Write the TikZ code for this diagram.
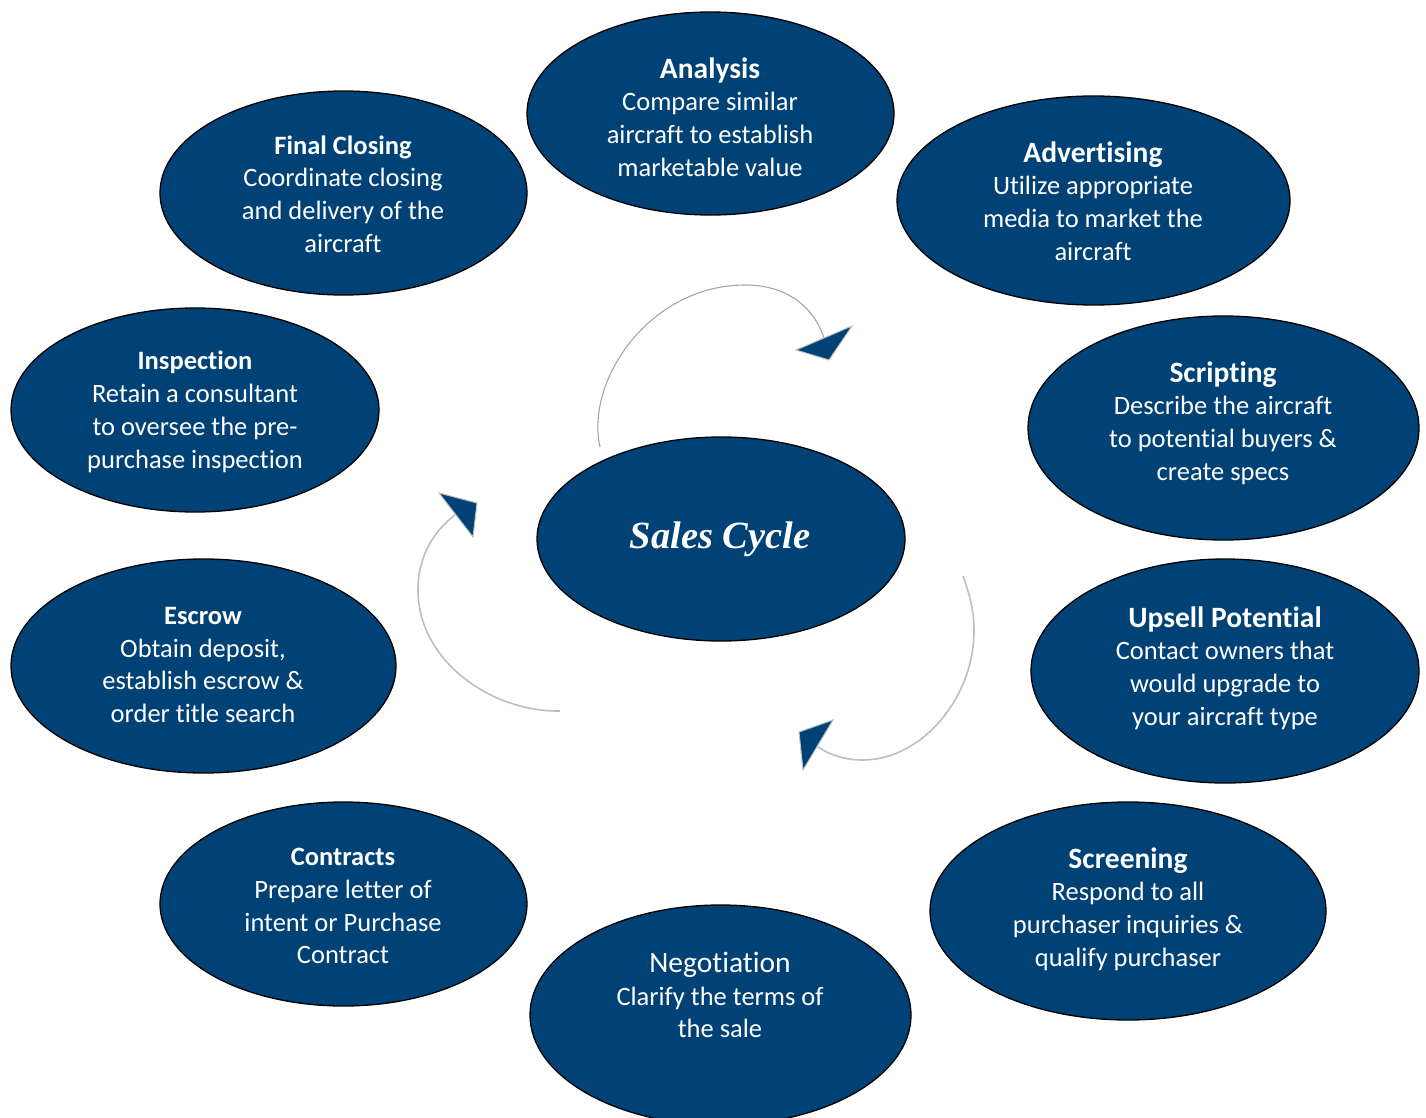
\documentclass[tikz,border=0pt]{standalone}
\usepackage{fontspec}
\setmainfont[Ligatures=NoCommon]{Carlito}
\newfontfamily\titlefont{Liberation Serif}
\definecolor{navy}{RGB}{0,66,118}
\definecolor{arrowgray}{RGB}{190,190,190}
\definecolor{darkgray2}{RGB}{165,165,165}
\newcommand{\bighead}[1]{{\fontsize{29.5}{32.8}\selectfont #1}}
\begin{document}
\begin{tikzpicture}[x=1pt,y=-1pt,
  ebox/.style={draw=black, line width=1.3pt, fill=navy},
  txt/.style={text=white, align=center, font=\fontsize{26.5}{32.8}\selectfont},
  cyc/.style={draw=arrowgray, line width=1.6pt},
  head/.style={fill=navy, draw=arrowgray, line width=1pt, line join=miter}
]
\useasboundingbox (0,0) rectangle (1426,1118);
\clip (0,0) rectangle (1426,1118);
% ellipses
\draw[ebox] (710.5,113.5) ellipse [x radius=183.5, y radius=101.5];
\draw[ebox] (1093.5,200.5) ellipse [x radius=196.5, y radius=104.5];
\draw[ebox] (343.5,193) ellipse [x radius=183.5, y radius=102];
\draw[ebox] (195,410) ellipse [x radius=184, y radius=102];
\draw[ebox] (1223.5,428) ellipse [x radius=195.5, y radius=112];
\draw[ebox] (721,539) ellipse [x radius=184, y radius=102];
\draw[ebox] (1225,671) ellipse [x radius=194, y radius=112];
\draw[ebox] (203.5,666) ellipse [x radius=192.5, y radius=107];
\draw[ebox] (343.5,904) ellipse [x radius=183.5, y radius=102];
\draw[ebox] (1128,911) ellipse [x radius=198, y radius=109];
\draw[ebox] (720.5,1015) ellipse [x radius=190.5, y radius=110];
% texts
\node[txt] (analysis) at (710,117) {\bighead{\textbf{Analysis}}\\Compare similar\\aircraft to establish\\marketable value};
\node[txt] (closing) at (343,194) {\textbf{Final Closing}\\Coordinate closing\\and delivery of the\\aircraft};
\node[txt] (advert) at (1093,201) {\bighead{\textbf{Advertising}}\\Utilize appropriate\\media to market the\\aircraft};
\node[txt] (inspect) at (195,412) {\textbf{Inspection}\\Retain a consultant\\to oversee the pre-\\purchase inspection};
\node[txt] (script) at (1223,423) {\bighead{\textbf{Scripting}}\\Describe the aircraft\\to potential buyers \&\\create specs};
\node[txt] (upsell) at (1225,668) {\bighead{\textbf{Upsell Potential}}\\Contact owners that\\would upgrade to\\your aircraft type};
\node[txt] (escrow) at (203,665) {\textbf{Escrow}\\Obtain deposit,\\establish escrow \&\\order title search};
\node[txt] (contract) at (343,906) {\textbf{Contracts}\\Prepare letter of\\intent or Purchase\\Contract};
\node[txt] (screen) at (1128,909) {\bighead{\textbf{Screening}}\\Respond to all\\purchaser inquiries \&\\qualify purchaser};
\node[txt] (nego) at (720,995) {\bighead{Negotiation}\\Clarify the terms of\\the sale};
\node[text=white, font=\titlefont\bfseries\itshape\fontsize{38.5}{40}\selectfont] (sales) at (720,539) {Sales Cycle};
% cycle arrows
\coordinate (a1s) at (600,447); \coordinate (a1e) at (824,338);
\draw[draw=darkgray2, line width=1.1pt] (a1s) .. controls (585,380) and (650,285) .. (745,285) .. controls (790,285) and (815,310) .. (a1e);
\draw[head] (796,350) -- (852,326) -- (829,360) -- cycle;
\coordinate (a2s) at (560,711); \coordinate (a2e) at (455,515);
\draw[cyc] (a2s) .. controls (490,712) and (418,660) .. (418,590) .. controls (418,555) and (435,530) .. (a2e);
\draw[head] (439,493) -- (477,503) -- (473,537) -- cycle;
\coordinate (a3s) at (963,576); \coordinate (a3e) at (818,747);
\draw[cyc] (a3s) .. controls (970,595) and (974,612) .. (974,630) .. controls (974,700) and (920,760) .. (863,760) .. controls (845,760) and (830,755) .. (a3e);
\draw[head] (799,732) -- (833,720) -- (803,770) -- cycle;
\end{tikzpicture}
\end{document}
